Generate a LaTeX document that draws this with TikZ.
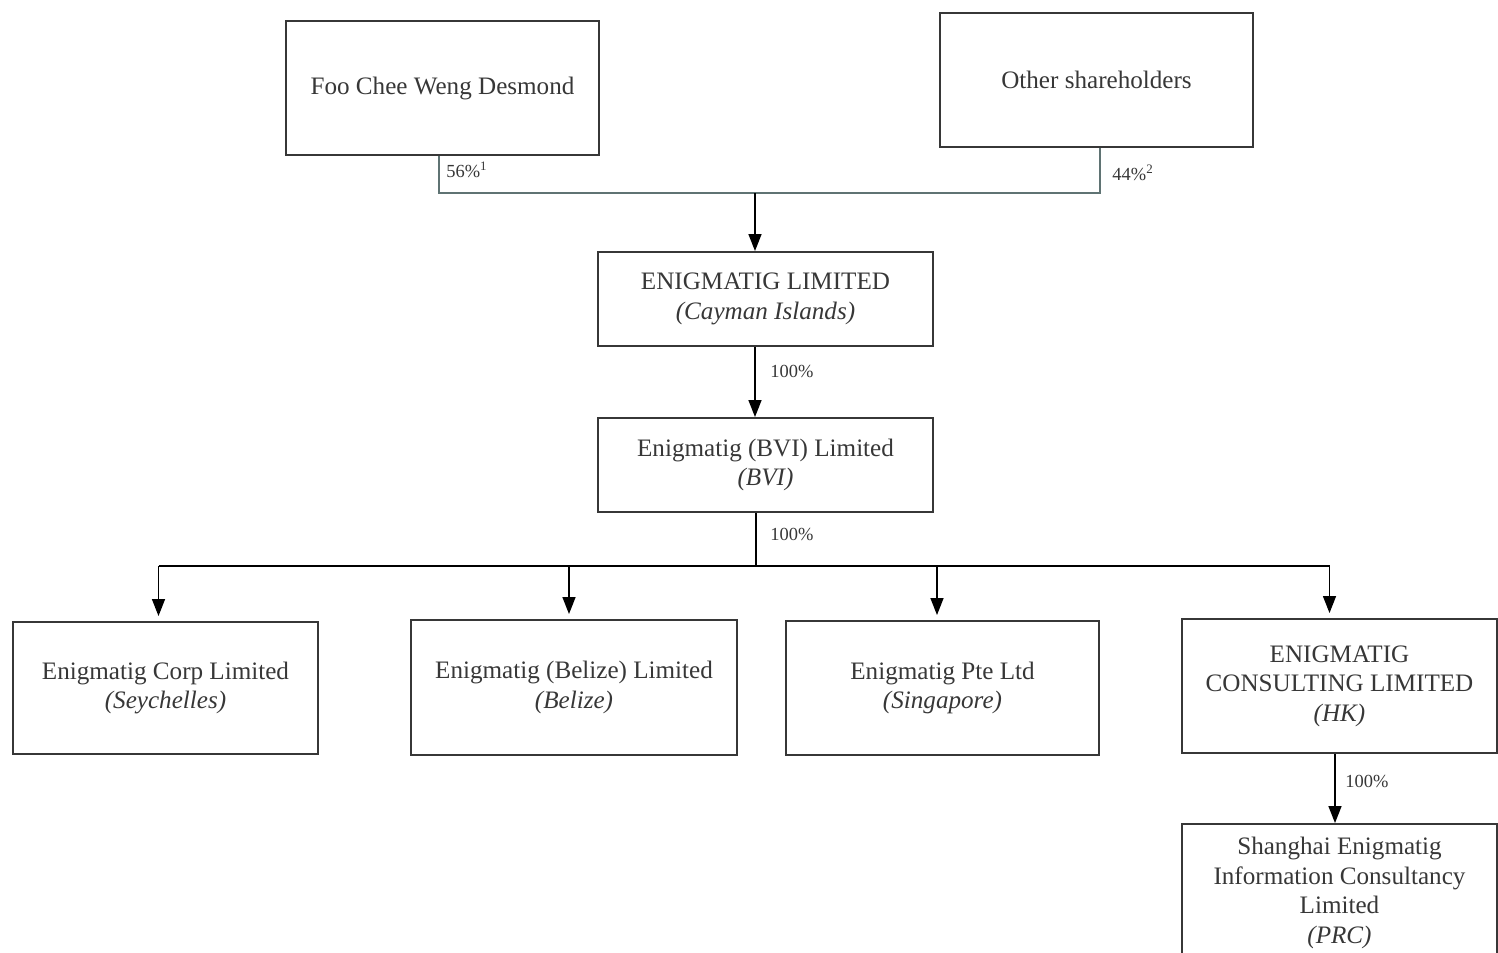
\documentclass[tikz,border=0pt]{standalone}
\usepackage{fontspec}
\setmainfont{Liberation Serif}
\usetikzlibrary{arrows.meta}
\definecolor{inkgray}{RGB}{55,55,55}
\definecolor{linkgray}{RGB}{95,115,115}
\tikzset{
  firm/.style={draw=inkgray,line width=1.1pt,align=center,inner sep=0pt,
    text=inkgray,font=\fontsize{14.3}{16.8}\selectfont},
  share/.style={text=inkgray,font=\fontsize{10.5}{12}\selectfont,inner sep=1pt},
  link/.style={draw=linkgray,line width=.8pt},
  own/.style={draw=black,line width=.8pt,-{Triangle[length=.34cm,width=.26cm]}}
}
\begin{document}
\begin{tikzpicture}[x=0.02cm,y=-0.02cm]
  \clip (0,0) rectangle (1498,953);
  % shareholders
  \node[firm,minimum width=6.26cm,minimum height=2.68cm] (foo) at (442.5,88) {Foo Chee Weng Desmond};
  \node[firm,minimum width=6.26cm,minimum height=2.68cm] (other) at (1096.5,80) {Other shareholders};
  % holding chain
  \node[firm,minimum width=6.7cm,minimum height=1.88cm] (enig) at (765.5,299) {ENIGMATIG LIMITED\\\textit{(Cayman Islands)}};
  \node[firm,minimum width=6.7cm,minimum height=1.88cm] (bvi) at (765.5,465) {Enigmatig (BVI) Limited\\\textit{(BVI)}};
  % subsidiaries
  \node[firm,minimum width=6.1cm,minimum height=2.64cm] (sey) at (165.5,688) {Enigmatig Corp Limited\\\textit{(Seychelles)}};
  \node[firm,minimum width=6.52cm,minimum height=2.7cm] (bel) at (574,687.5) {Enigmatig (Belize) Limited\\\textit{(Belize)}};
  \node[firm,minimum width=6.26cm,minimum height=2.68cm] (sgp) at (942.5,688) {Enigmatig Pte Ltd\\\textit{(Singapore)}};
  \node[firm,minimum width=6.3cm,minimum height=2.68cm] (hk) at (1339.5,686) {ENIGMATIG\\CONSULTING LIMITED\\\textit{(HK)}};
  \node[firm,minimum width=6.3cm,minimum height=2.76cm] (sh) at (1339.5,893) {Shanghai Enigmatig\\Information Consultancy\\Limited\\\textit{(PRC)}};

  \coordinate (tjoin) at (755,193);
  \coordinate (bus) at (756,566);
  \draw[link] ([xshift=-.07cm]foo.south) |- (tjoin) -| ([xshift=.07cm]other.south);
  \draw[own] (tjoin) -- (tjoin |- enig.north);
  \node[share] (pfoo) at (467,170) {56\%\textsuperscript{1}};
  \node[share] (pother) at (1133,173) {44\%\textsuperscript{2}};

  \draw[own] (enig.south -| tjoin) -- (bvi.north -| tjoin);
  \node[share] (penig) at (792,371) {100\%};
  \draw[draw=black,line width=.8pt] (bvi.south -| bus) -- (bus);
  \node[share] (pbvi) at (792,534) {100\%};
  \draw[draw=black,line width=.8pt] ([xshift=-.14cm]sey.north |- bus) -- ([xshift=-.2cm]hk.north |- bus);
  \foreach \n/\dx in {sey/-.14,bel/-.1,sgp/-.11,hk/-.2}
    \draw[own,shorten >=.1cm] ([xshift=\dx cm]\n.north |- bus) -- ([xshift=\dx cm]\n.north);

  \draw[own] ([xshift=-.09cm]hk.south) -- ([xshift=-.09cm]sh.north);
  \node[share] (phk) at (1367,781) {100\%};
\end{tikzpicture}
\end{document}
